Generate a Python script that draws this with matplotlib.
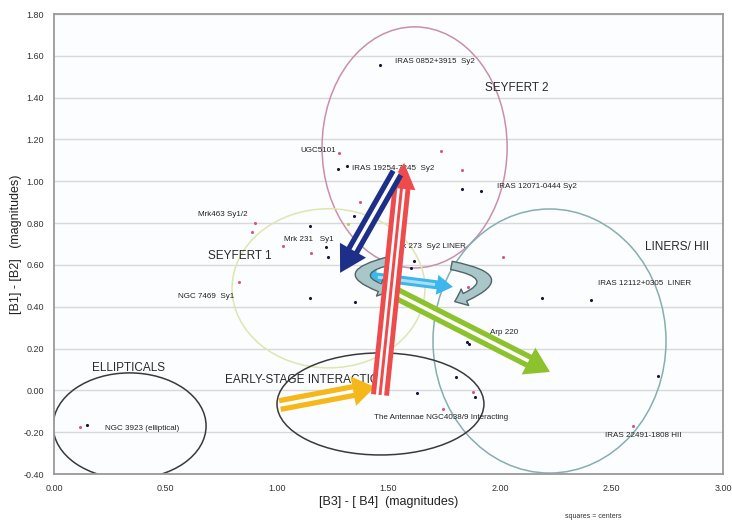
import numpy as np
import matplotlib
matplotlib.use("Agg")
import matplotlib.pyplot as plt
from matplotlib.patches import Ellipse, Polygon, FancyArrowPatch

plt.rcParams['font.family'] = ['Liberation Sans', 'DejaVu Sans']

# ---------------- data ----------------
black_x = [1.462, 1.274, 1.314, 1.830, 1.915, 1.345, 1.148, 1.220, 1.229, 1.148, 1.350,
           1.614, 1.600, 1.641, 2.188, 2.408, 1.852, 1.862, 1.928, 2.709, 1.803, 1.628,
           1.888, 1.054, 0.148]
black_y = [1.557, 1.059, 1.074, 0.964, 0.954, 0.834, 0.787, 0.686, 0.638, 0.442, 0.423,
           0.619, 0.586, 0.504, 0.442, 0.433, 0.232, 0.222, 0.246, 0.069, 0.064, -0.012,
           -0.032, -0.065, -0.166]
pink_x = [1.278, 1.735, 1.830, 1.372, 1.027, 1.152, 0.901, 0.888, 0.830, 1.857, 2.013,
          1.879, 1.744, 2.596, 0.117]
pink_y = [1.136, 1.145, 1.055, 0.901, 0.691, 0.657, 0.801, 0.758, 0.519, 0.495, 0.638,
          -0.008, -0.089, -0.170, -0.175]
green_x = [1.318]
green_y = [0.796]

# group ellipses: name, center x, center y, width, height
ell_names = ["SEYFERT 2", "SEYFERT 1", "LINERS/ HII", "ELLIPTICALS", "EARLY-STAGE"]
ell_cx = [1.617, 1.231, 2.222, 0.339, 1.464]
ell_cy = [1.162, 0.488, 0.236, -0.170, -0.065]
ell_w = [0.830, 0.865, 1.045, 0.686, 0.928]
ell_h = [1.153, 0.761, 1.263, 0.507, 0.488]
ell_colors = ["#c98fae", "#dfe6ad", "#86aeb0", "#3a3a3a", "#3a3a3a"]

# labels
lab_text = ["IRAS 0852+3915  Sy2", "UGC5101", "IRAS 19254-7245  Sy2", "IRAS 12071-0444 Sy2",
            "Mrk463 Sy1/2", "Mrk 231   Sy1", "Mrk 273  Sy2 LINER", "IRAS 12112+0305  LINER",
            "NGC 7469  Sy1", "Arp 220", "NGC 3923 (elliptical)",
            "The Antennae NGC4038/9 Interacting", "IRAS 22491-1808 HII"]
lab_x = [1.529, 1.103, 1.336, 1.987, 0.646, 1.031, 1.520, 2.439, 0.556, 1.955, 0.229, 1.435, 2.471]
lab_y = [1.571, 1.145, 1.059, 0.973, 0.839, 0.720, 0.686, 0.509, 0.447, 0.275, -0.180, -0.132, -0.218]

grp_text = ["SEYFERT 2", "SEYFERT 1", "LINERS/ HII", "ELLIPTICALS", "EARLY-STAGE INTERACTION"]
grp_x = [1.933, 0.691, 2.650, 0.170, 0.767]
grp_y = [1.447, 0.643, 0.686, 0.107, 0.050]

# arrows: tail (x0,y0) -> tip (x1,y1)
arr_names = ["yellow", "green", "red", "navy"]
arr_x0 = [1.013, 1.475, 1.462, 1.538]
arr_y0 = [-0.070, 0.495, -0.022, 1.040]
arr_x1 = [1.439, 2.224, 1.570, 1.283]
arr_y1 = [0.016, 0.088, 1.088, 0.562]
arr_colors = ["#f6b71b", "#8cc22c", "#ee4c4c", "#1d2f88"]

# double headed light blue arrow
dbl_x = [1.372, 1.789]
dbl_y = [0.552, 0.495]

# curled arrows (start -> end)
curl_x0 = [1.525, 1.770]
curl_y0 = [0.625, 0.600]
curl_x1 = [1.520, 1.785]
curl_y1 = [0.470, 0.420]
curl_rad = [1.9, -1.8]

xticks = [0.0, 0.5, 1.0, 1.5, 2.0, 2.5, 3.0]
yticks = [-0.4, -0.2, 0.0, 0.2, 0.4, 0.6, 0.8, 1.0, 1.2, 1.4, 1.6, 1.8]

# ---------------- figure ----------------
fig = plt.figure(figsize=(7.32, 5.20), dpi=100)
ax = fig.add_axes([54/732, 46/520, 669/732, 460/520])
ax.set_xlim(0, 3.0)
ax.set_ylim(-0.4, 1.8)
ax.set_facecolor("#fcfdfe")
for s in ax.spines.values():
    s.set_color("#9a9a9a")
    s.set_linewidth(1.3)
ax.set_xticks(xticks)
ax.set_yticks(yticks)
ax.set_xticklabels(["%.2f" % v for v in xticks], fontsize=6.5, color="#333333")
ax.set_yticklabels(["%.2f" % v for v in yticks], fontsize=6.5, color="#333333")
ax.tick_params(length=0, pad=7)
ax.yaxis.grid(True, color="#d8d8d8", linewidth=1.0)
ax.set_axisbelow(True)
ax.set_xlabel("[B3] - [ B4]  (magnitudes)", fontsize=9, color="#222222", labelpad=2)
ax.set_ylabel("[B1] - [B2]   (magnitudes)", fontsize=9, color="#222222", labelpad=1)

for cx, cy, w, h, c in zip(ell_cx, ell_cy, ell_w, ell_h, ell_colors):
    ax.add_patch(Ellipse((cx, cy), w, h, fill=False, edgecolor=c, linewidth=1.1, zorder=2))

ax.scatter(black_x, black_y, s=5, color="#15153a", zorder=3, linewidths=0)
ax.scatter(pink_x, pink_y, s=5, color="#d4558f", zorder=3, linewidths=0)
ax.scatter(green_x, green_y, s=5, color="#b8cc50", zorder=3, linewidths=0)

for t, x, y in zip(lab_text, lab_x, lab_y):
    ax.text(x, y, t, fontsize=5.8, color="#222222", va="center", ha="left", zorder=4)
for t, x, y in zip(grp_text, grp_x, grp_y):
    ax.text(x, y, t, fontsize=8.5, color="#2a2a2a", va="center", ha="left", zorder=4)

fig.text(565/732, 1 - 516/520, "squares = centers", fontsize=5, color="#333333",
         va="center", ha="left")

# ---------- arrows built in pixel space ----------
inv = ax.transData.inverted()


def to_px(x, y):
    return ax.transData.transform((x, y))


def arrow_poly(p0, p1, w, h, hl, double=False):
    p0 = np.asarray(p0, float)
    p1 = np.asarray(p1, float)
    d = p1 - p0
    L = np.hypot(*d)
    u = d / L
    n = np.array([-u[1], u[0]])
    a = hl if double else 0.0
    pts = [p0 + u * a + n * w, p0 + u * (L - hl) + n * w, p0 + u * (L - hl) + n * h, p1,
           p0 + u * (L - hl) - n * h, p0 + u * (L - hl) - n * w, p0 + u * a - n * w]
    if double:
        pts += [p0 + u * hl - n * h, p0, p0 + u * hl + n * h]
    return np.array(pts)


def stripe_poly(p0, p1, offset, sw, hl, double=False, margin=0.0):
    p0 = np.asarray(p0, float)
    p1 = np.asarray(p1, float)
    d = p1 - p0
    L = np.hypot(*d)
    u = d / L
    n = np.array([-u[1], u[0]])
    a = (hl + margin) if double else -1.0
    b = L - hl - margin
    c = n * offset
    return np.array([p0 + u * a + c + n * sw / 2, p0 + u * b + c + n * sw / 2,
                     p0 + u * b + c - n * sw / 2, p0 + u * a + c - n * sw / 2])


def draw_arrow(x0, y0, x1, y1, color, w, h, hl, stripes, sw, z, stripe_color="white",
               double=False):
    p0 = to_px(x0, y0)
    p1 = to_px(x1, y1)
    poly = arrow_poly(p0, p1, w, h, hl, double)
    ax.add_patch(Polygon(inv.transform(poly), closed=True, facecolor=color,
                         edgecolor="none", zorder=z))
    for off in stripes:
        sp = stripe_poly(p0, p1, off, sw, hl, double, margin=2.0 if double else 0.0)
        ax.add_patch(Polygon(inv.transform(sp), closed=True, facecolor=stripe_color,
                             edgecolor="none", zorder=z + 0.01))


# yellow, green
draw_arrow(arr_x0[0], arr_y0[0], arr_x1[0], arr_y1[0], arr_colors[0], 7, 15, 22, [0], 3.5, 5)
draw_arrow(arr_x0[1], arr_y0[1], arr_x1[1], arr_y1[1], arr_colors[1], 7, 15, 24, [0], 3.5, 5.2)
# light blue double arrow
draw_arrow(dbl_x[0], dbl_y[0], dbl_x[1], dbl_y[1], "#3db6ec", 4.5, 10, 16, [0], 3, 5.4,
           stripe_color="#a9def6", double=True)

# curled arrows
for xa, ya, xb, yb, r in zip(curl_x0, curl_y0, curl_x1, curl_y1, curl_rad):
    fa = FancyArrowPatch((xa, ya), (xb, yb), connectionstyle="arc3,rad=%.2f" % r,
                         arrowstyle="simple,head_length=8,head_width=13,tail_width=6",
                         mutation_scale=1, facecolor="#a9c6c8", edgecolor="#4d6668",
                         linewidth=1.0, zorder=5.6)
    ax.add_patch(fa)

# red, navy
draw_arrow(arr_x0[2], arr_y0[2], arr_x1[2], arr_y1[2], arr_colors[2], 9, 14, 26,
           [-2.8, 2.8], 2.6, 6)
draw_arrow(arr_x0[3], arr_y0[3], arr_x1[3], arr_y1[3], arr_colors[3], 7, 15, 26, [0], 3.5, 6.2)

fig.savefig("out.png", dpi=100)
